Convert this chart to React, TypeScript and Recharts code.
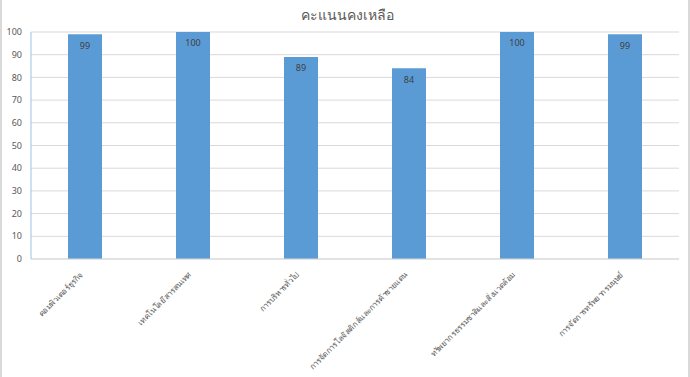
import { BarChart, Bar, XAxis, YAxis, CartesianGrid, LabelList } from "recharts";

const programs = [
  "คอมพิวเตอร์ธุรกิจ",
  "เทคโนโลยีสารสนเทศ",
  "การบริหารทั่วไป",
  "การจัดการโลจิสติกส์และการค้าชายแดน",
  "ทรัพยากรธรรมชาติและสิ่งแวดล้อม",
  "การจัดการทรัพยากรมนุษย์",
];
const remaining = [99, 100, 89, 84, 100, 99];
const yTicks = [0, 10, 20, 30, 40, 50, 60, 70, 80, 90, 100];

const FONT = "Tahoma, 'Noto Sans', sans-serif";

const chartData = programs.map((name, i) => ({ name, score: remaining[i] }));

function SlantedTick(props: any) {
  const { x, y, payload } = props;
  const ax = x - 1;
  const ay = y + 8;
  return (
    <text
      x={ax}
      y={ay}
      transform={`rotate(-45, ${ax}, ${ay})`}
      textAnchor="end"
      fontSize={8}
      fill="#595959"
      fontFamily={FONT}
    >
      {payload.value}
    </text>
  );
}

export default function App() {
  return (
    <div
      style={{
        position: "absolute",
        left: 0,
        top: 0,
        width: 690,
        height: 377,
        background: "#fff",
        boxSizing: "border-box",
        borderLeft: "2px solid #d9d9d9",
        borderRight: "2px solid #d9d9d9",
        fontFamily: FONT,
      }}
    >
      <div
        style={{
          position: "absolute",
          top: 4,
          left: 0,
          width: 690,
          textAlign: "center",
          fontSize: 14,
          color: "#595959",
        }}
      >
        คะแนนคงเหลือ
      </div>
      <BarChart
        width={686}
        height={377}
        data={chartData}
        margin={{ top: 32, right: 9, left: 0, bottom: 0 }}
        style={{ position: "absolute", left: 0, top: 0 }}
      >
        <CartesianGrid vertical={false} stroke="#d9d9d9" />
        <XAxis
          dataKey="name"
          interval={0}
          tickLine={false}
          axisLine={{ stroke: "#d9d9d9" }}
          tick={<SlantedTick />}
          height={118}
        />
        <YAxis
          domain={[0, 100]}
          ticks={yTicks}
          interval={0}
          width={29}
          tickLine={false}
          tickSize={0}
          tickMargin={9}
          axisLine={{ stroke: "#9dc3e6" }}
          tick={{ fontSize: 9, fill: "#595959", fontFamily: FONT }}
        />
        <Bar dataKey="score" fill="#5b9bd5" barSize={34} isAnimationActive={false}>
          <LabelList
            dataKey="score"
            position="insideTop"
            offset={8}
            fontSize={9}
            fill="#404040"
            fontFamily={FONT}
          />
        </Bar>
      </BarChart>
    </div>
  );
}
